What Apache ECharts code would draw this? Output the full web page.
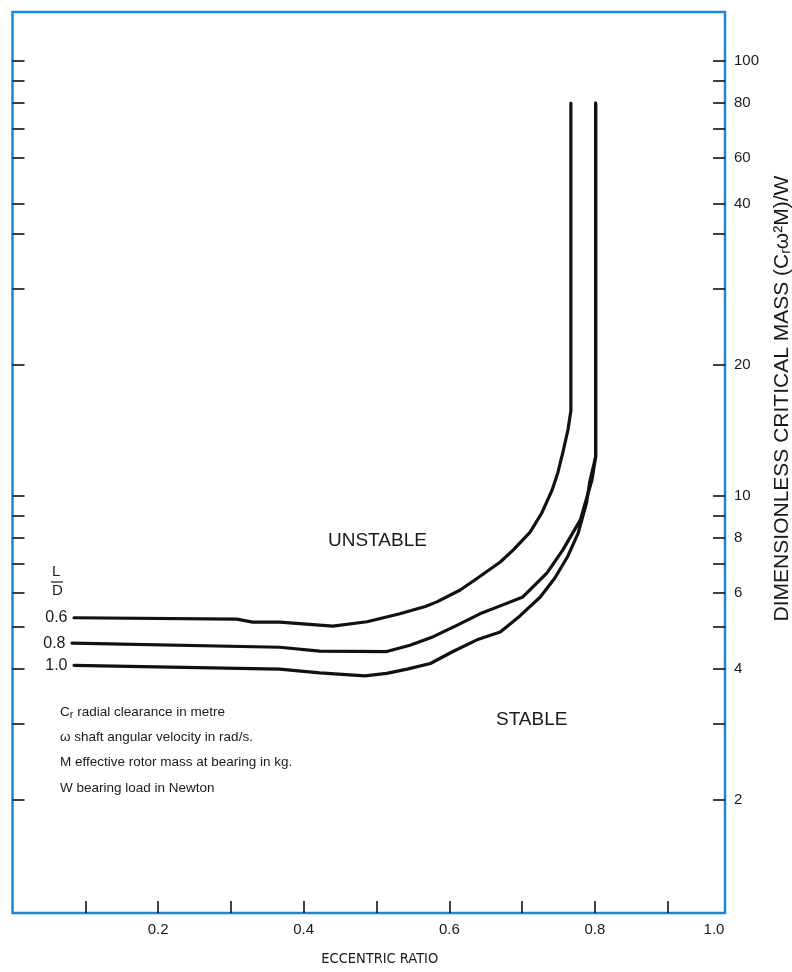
<!DOCTYPE html>
<html>
<head>
<meta charset="utf-8">
<script src="https://cdn.jsdelivr.net/npm/echarts@6/dist/echarts.min.js"></script>
<style>
html,body{margin:0;padding:0;background:#fff;}
#chart{width:792px;height:972px;}
</style>
</head>
<body>
<div id="chart"></div>
<script>
// ---- data ----
const xMin = 0, xMax = 0.9787;
const yMin = 1.1, yMax = 129.6;
const xTickValues = [0.1, 0.2, 0.3, 0.4, 0.5, 0.6, 0.7, 0.8, 0.9];
const xLabelValues = [0.2, 0.4, 0.6, 0.8, xMax];
const xLabelTexts = ['0.2', '0.4', '0.6', '0.8', '1.0'];
const yTickValues = [2, 3, 4, 5, 6, 7, 8, 9, 10, 20, 30, 40, 47, 60, 70, 80, 90, 100];
const yLabelValues = [2, 4, 6, 8, 10, 20, 47, 60, 80, 100];
const yLabelTexts = ['2', '4', '6', '8', '10', '20', '40', '60', '80', '100'];

const curve06X = [0.0845, 0.308, 0.330, 0.367, 0.440, 0.487, 0.532, 0.567, 0.583, 0.615, 0.639, 0.670, 0.688, 0.711, 0.727, 0.741, 0.749, 0.756, 0.763, 0.767, 0.767];
const curve06Y = [5.25, 5.21, 5.13, 5.13, 5.02, 5.14, 5.36, 5.57, 5.71, 6.08, 6.48, 7.05, 7.52, 8.26, 9.14, 10.3, 11.3, 12.6, 14.2, 15.7, 80];
const curve08X = [0.0817, 0.367, 0.422, 0.514, 0.546, 0.578, 0.611, 0.642, 0.670, 0.701, 0.734, 0.756, 0.780, 0.796, 0.801, 0.801];
const curve08Y = [4.59, 4.49, 4.40, 4.39, 4.54, 4.75, 5.05, 5.36, 5.59, 5.86, 6.65, 7.52, 8.81, 10.9, 12.3, 80];
const curve10X = [0.0845, 0.367, 0.422, 0.484, 0.514, 0.542, 0.574, 0.605, 0.638, 0.670, 0.697, 0.725, 0.745, 0.763, 0.777, 0.7885, 0.793, 0.801, 0.801];
const curve10Y = [4.08, 4.00, 3.92, 3.86, 3.91, 4.00, 4.12, 4.39, 4.67, 4.87, 5.30, 5.86, 6.48, 7.28, 8.22, 9.64, 10.8, 12.3, 80];
const curveNames = ['0.6', '0.8', '1.0'];

const notes = [
  ['C', 'r', ' radial clearance in metre'],
  ['\u03c9 shaft angular velocity in rad/s.'],
  ['M effective rotor mass at bearing in kg.'],
  ['W bearing load in Newton']
];

// ---- chart ----
const FONT = '"Liberation Sans", Arial, sans-serif';
const CFONT = '"DejaVu Sans Condensed", "Liberation Sans", sans-serif';
const TXT = '#1a1a1a';
const BLUE = '#1b86d8';

function zip(xs, ys) { return xs.map((x, i) => [x, ys[i]]); }

function curveSeries(name, xs, ys) {
  return {
    name: name, type: 'line', data: zip(xs, ys), showSymbol: false, symbol: 'none',
    smooth: false, silent: true, animation: false,
    lineStyle: { color: '#111', width: 3.2, cap: 'round', join: 'round' },
    markPoint: {
      symbol: 'circle', symbolSize: 1, silent: true, animation: false,
      itemStyle: { color: '#111' },
      data: [{ coord: [xs[0], ys[0]], value: name }],
      label: { show: true, position: 'left', distance: 6, formatter: name, color: TXT, fontSize: 16, fontFamily: FONT }
    },
    z: 5
  };
}

const chart = echarts.init(document.getElementById('chart'), null, { renderer: 'canvas' });

const noteLineH = 25.3;
const graphics = [
  { type: 'text', left: 328, top: 531, style: { text: 'UNSTABLE', fill: TXT, font: '19px ' + FONT } },
  { type: 'text', left: 496, top: 710, style: { text: 'STABLE', fill: TXT, font: '19px ' + FONT } },
  { type: 'text', left: 52, top: 564, style: { text: 'L', fill: TXT, font: '15px ' + FONT } },
  { type: 'line', shape: { x1: 51, y1: 582, x2: 63, y2: 582 }, style: { stroke: TXT, lineWidth: 1.2 } },
  { type: 'text', left: 52, top: 583, style: { text: 'D', fill: TXT, font: '15px ' + FONT } }
];
notes.forEach((parts, i) => {
  let text;
  if (parts.length === 3) {
    text = '{a|' + parts[0] + '}{s|' + parts[1] + '}{a|' + parts[2] + '}';
  } else {
    text = '{a|' + parts[0] + '}';
  }
  graphics.push({
    type: 'text', left: 60, top: 705 + i * noteLineH,
    style: {
      text: text, fill: TXT,
      rich: {
        a: { fontSize: 13.5, fontFamily: FONT, fill: TXT, color: TXT },
        s: { fontSize: 11, fontFamily: FONT, fill: TXT, color: TXT, padding: [5, 0, 0, 0] }
      }
    }
  });
});

const yTickStyle = { show: true, inside: true, length: 12, customValues: yTickValues, lineStyle: { color: '#111', width: 1.6 } };

const option = {
  animation: false,
  backgroundColor: '#fff',
  grid: { left: 12.5, top: 12, right: 67, bottom: 59, show: true, borderColor: BLUE, borderWidth: 2.5, backgroundColor: 'transparent', containLabel: false, outerBoundsMode: 'none' },
  xAxis: {
    type: 'value', min: xMin, max: xMax, position: 'bottom',
    name: 'ECCENTRIC RATIO', nameLocation: 'middle', nameGap: 39,
    nameTextStyle: { fontSize: 14.5, fontFamily: CFONT, color: TXT, padding: [0, 0, 0, 22] },
    axisLine: { show: false, onZero: false },
    splitLine: { show: false },
    axisTick: { show: true, inside: true, length: 12, customValues: xTickValues, lineStyle: { color: '#111', width: 1.6 } },
    axisLabel: {
      show: true, customValues: xLabelValues, margin: 9, fontSize: 15, fontFamily: FONT, color: TXT,
      formatter: function (v) {
        const i = xLabelValues.findIndex(t => Math.abs(t - v) < 1e-6);
        if (i < 0) return '';
        if (v === xMax) return '{r|' + xLabelTexts[i] + '}';
        return xLabelTexts[i];
      },
      rich: { r: { fontSize: 15, fontFamily: FONT, color: TXT, padding: [0, 22, 0, 0] } }
    }
  },
  yAxis: [{
    type: 'log', logBase: 10, min: yMin, max: yMax, position: 'right',
    name: 'DIMENSIONLESS CRITICAL MASS (C{s|r}\u03c9\u00b2M)/W', nameLocation: 'middle', nameGap: 46, nameRotate: 90,
    nameTextStyle: { fontSize: 21, fontFamily: FONT, color: TXT, padding: [0, 0, 0, 128], rich: { s: { fontSize: 14, fontFamily: FONT, color: TXT, padding: [8, 0, 0, 0] } } },
    axisLine: { show: false, onZero: false },
    splitLine: { show: false },
    axisTick: yTickStyle,
    axisLabel: {
      show: true, customValues: yLabelValues, margin: 9, fontSize: 15, fontFamily: FONT, color: TXT,
      formatter: function (v) {
        const i = yLabelValues.findIndex(t => Math.abs(t - v) < 1e-6 * t);
        return i < 0 ? '' : yLabelTexts[i];
      }
    }
  }, {
    type: 'log', logBase: 10, min: yMin, max: yMax, position: 'left',
    axisLine: { show: false, onZero: false },
    splitLine: { show: false },
    axisTick: yTickStyle,
    axisLabel: { show: false }
  }],
  series: [
    curveSeries(curveNames[0], curve06X, curve06Y),
    curveSeries(curveNames[1], curve08X, curve08Y),
    curveSeries(curveNames[2], curve10X, curve10Y)
  ],
  graphic: graphics
};
chart.setOption(option);
</script>
</body>
</html>
